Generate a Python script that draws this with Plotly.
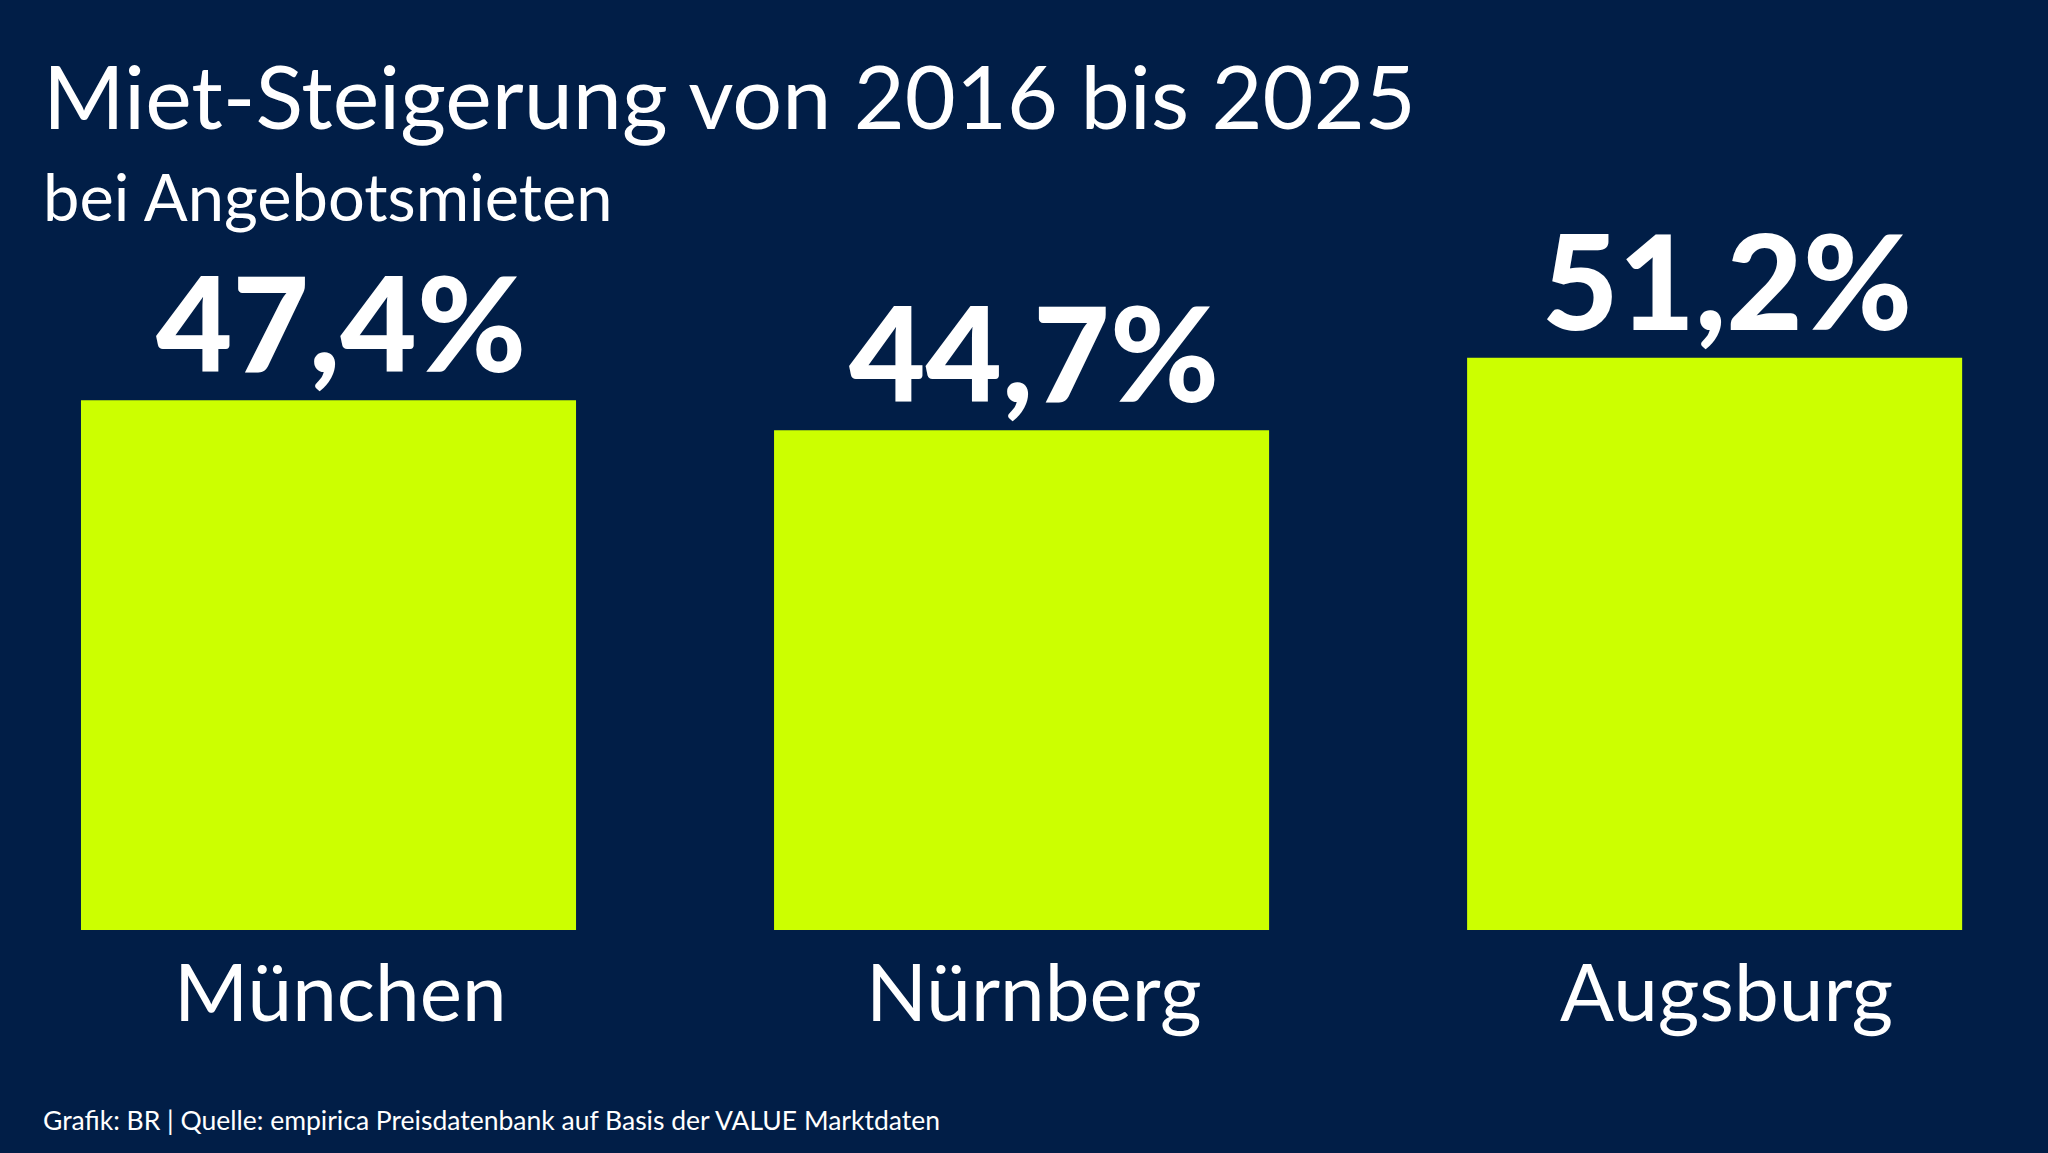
import plotly.graph_objects as go

# Daten
staedte = ['München', 'Nürnberg', 'Augsburg']
steigerung = [47.4, 44.7, 51.2]
labels = ['47,4%', '44,7%', '51,2%']

titel = 'Miet-Steigerung von 2016 bis 2025'
untertitel = 'bei Angebotsmieten'
quelle = 'Grafik: BR | Quelle: empirica Preisdatenbank auf Basis der VALUE Marktdaten'

BG = '#011E47'
BAR = '#CCFF00'
FONT = 'Lato'

fig = go.Figure()
fig.add_trace(go.Bar(x=staedte, y=steigerung, marker=dict(color=BAR, line=dict(width=0)),
                     hoverinfo='skip'))

# Werte über den Balken, Städtenamen darunter
for s, v, t in zip(staedte, steigerung, labels):
    fig.add_annotation(x=s, y=v, text=t, showarrow=False,
                       xanchor='center', yanchor='bottom', yshift=-2, xshift=12,
                       font=dict(family=FONT, size=132, weight=900, color='white'))
    fig.add_annotation(x=s, y=0, text=s, showarrow=False,
                       xanchor='center', yanchor='top', yshift=-10, xshift=12,
                       font=dict(family=FONT, size=80, color='white'))

# Titel, Untertitel, Quelle (Plotbereich = 930 px hoch)
def py(px):
    return (930 - px) / 930

fig.add_annotation(x=0.02, y=py(40), xref='paper', yref='paper', text=titel,
                   showarrow=False, xanchor='left', yanchor='top',
                   font=dict(family=FONT, size=88, color='white'))
fig.add_annotation(x=0.02, y=py(155), xref='paper', yref='paper', text=untertitel,
                   showarrow=False, xanchor='left', yanchor='top',
                   font=dict(family=FONT, size=65, color='white'))
fig.add_annotation(x=0.02, y=py(1102), xref='paper', yref='paper', text=quelle,
                   showarrow=False, xanchor='left', yanchor='top',
                   font=dict(family=FONT, size=26.5, color='white'))

fig.update_layout(
    width=2048, height=1153,
    margin=dict(l=0, r=0, t=0, b=223),
    paper_bgcolor=BG, plot_bgcolor=BG,
    bargap=0.2857,
    showlegend=False,
    xaxis=dict(type='category', range=[-0.474, 2.481], showgrid=False, zeroline=False,
               showline=False, ticks='', showticklabels=False),
    yaxis=dict(range=[0, 83.2], visible=False, showgrid=False, zeroline=False),
)

fig.write_html('out.html', config={'displayModeBar': False},
               post_script="document.body.style.margin='0px';")
